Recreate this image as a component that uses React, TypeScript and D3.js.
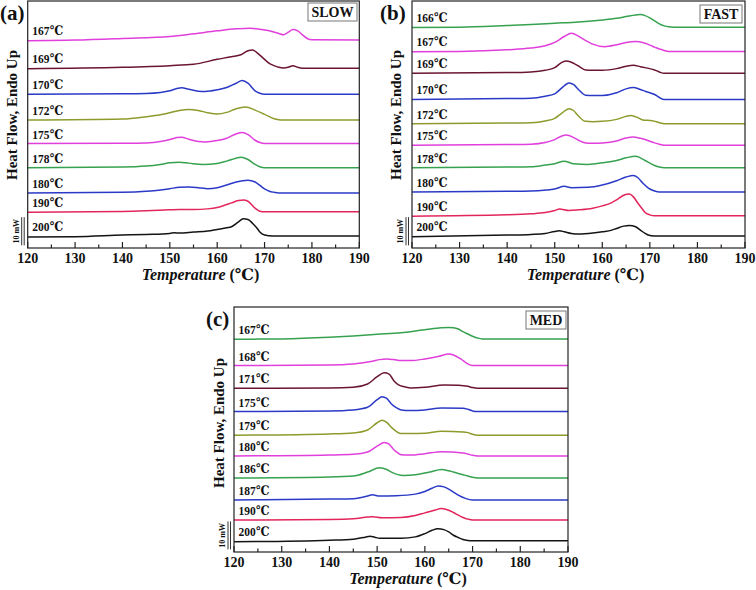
import React from "react";
import * as d3 from "d3";

type Pt = [number, number];

// ---------- common ----------
const X_TICKS = [120, 130, 140, 150, 160, 170, 180, 190];
const X_MINOR = [125, 135, 145, 155, 165, 175, 185];
const X_DOMAIN: [number, number] = [120, 190];
const Y_DOMAIN: [number, number] = [0, 74.5];
const SCALE_BAR = [0.8, 9.3]; // 10 mW marker (in plot units)

const C_BLACK = "#141414";
const C_RED = "#e2265c";
const C_BLUE = "#2b3ac6";
const C_GREEN = "#36a24f";
const C_MAGENTA = "#e03fdc";
const C_OLIVE = "#8e9b2c";
const C_DARKRED = "#6a1630";

// ---------- (a) SLOW ----------
const SLOW_LABELS = ["167℃", "169℃", "170℃", "172℃", "175℃", "178℃", "180℃", "190℃", "200℃"];
const SLOW_OFFSETS = [62.7, 54.2, 46.4, 38.6, 31.5, 24.2, 16.6, 10.9, 3.6];
const SLOW_COLORS = [C_MAGENTA, C_DARKRED, C_BLUE, C_OLIVE, C_MAGENTA, C_GREEN, C_BLUE, C_RED, C_BLACK];
const SLOW_167: Pt[] = [[120, -0.2], [130, 0], [140, 0.5], [150, 1.1], [155, 1.9], [160, 2.8], [164, 3.4], [167, 3.6], [169, 3.3], [171, 2.8], [173, 2.0], [174, 1.6], [175, 2.4], [176, 3.2], [177, 2.8], [178, 1.6], [179, 0.5], [180, 0.1], [190, 0]];
const SLOW_169: Pt[] = [[120, -0.1], [140, 0.3], [150, 0.8], [155, 1.2], [160, 2.7], [163, 3.5], [165, 4.1], [166.5, 5.3], [167.5, 5.5], [168.5, 4.6], [170, 2.7], [171, 1.5], [172, 0.8], [173, 0.3], [174, 0.1], [175, 0.3], [176, 0.8], [177, 0.3], [178, 0], [190, 0]];
const SLOW_170: Pt[] = [[120, 0], [140, 0.1], [145, 0.2], [148, 0.5], [150, 1.0], [151.5, 1.7], [152.5, 1.9], [154, 1.5], [156, 0.9], [157.5, 0.8], [160, 1.3], [162, 2.0], [164, 3.3], [165.3, 4.1], [166.5, 3.3], [168, 1.0], [169, 0.3], [170, 0], [190, 0]];
const SLOW_172: Pt[] = [[120, 0], [140, 0.3], [145, 1.0], [148, 1.6], [150, 2.2], [152, 2.9], [154, 3.2], [156, 2.9], [158, 2.2], [160, 1.8], [162, 2.3], [164, 3.4], [166, 3.9], [168, 3.0], [170, 1.7], [172, 0.4], [173, 0.1], [174, 0], [190, 0]];
const SLOW_175: Pt[] = [[120, 0], [140, 0.1], [145, 0.2], [148, 0.6], [150, 1.2], [151.5, 1.8], [152.5, 1.9], [154, 1.3], [156, 0.6], [157.5, 0.5], [160, 0.9], [162, 1.6], [164, 2.9], [165.3, 3.3], [166.5, 2.7], [168, 1.0], [169, 0.3], [170, 0], [190, 0]];
const SLOW_178: Pt[] = [[120, 0], [140, 0.2], [145, 0.5], [148, 1.0], [150, 1.5], [152, 1.7], [154, 1.4], [157, 1.0], [160, 1.3], [162, 2.0], [164, 2.9], [165, 3.2], [166.5, 2.5], [168, 1.0], [169, 0.3], [170, 0], [190, 0]];
const SLOW_180: Pt[] = [[120, 0], [140, 0.2], [145, 0.5], [150, 1.3], [152, 1.7], [154, 1.8], [156, 1.6], [158, 1.3], [160, 1.6], [162, 2.4], [164, 3.3], [166.5, 3.8], [168, 3.3], [169, 2.3], [170, 1.2], [171, 0.5], [172, 0.2], [173, 0], [190, 0]];
const SLOW_190: Pt[] = [[120, -0.1], [140, 0.1], [145, 0.3], [150, 0.6], [152, 0.7], [155, 0.7], [158, 0.9], [160, 1.3], [162, 2.2], [163, 2.7], [164.5, 3.4], [165.5, 3.6], [166.5, 3.2], [168, 1.1], [169, 0.2], [170, 0], [190, 0]];
const SLOW_200: Pt[] = [[120, -0.3], [130, -0.2], [140, 0.3], [145, 0.5], [150, 0.8], [151, 1.0], [152, 0.9], [155, 1.2], [158, 1.5], [160, 2.0], [162, 2.5], [163, 2.8], [164.5, 4.3], [165.5, 5.2], [166.5, 5.0], [167.5, 3.8], [168.5, 2.2], [169, 1.2], [170, 0.3], [171, 0.1], [172, 0], [190, 0]];
const SLOW_CURVES = [SLOW_167, SLOW_169, SLOW_170, SLOW_172, SLOW_175, SLOW_178, SLOW_180, SLOW_190, SLOW_200];

// ---------- (b) FAST ----------
const FAST_LABELS = ["166℃", "167℃", "169℃", "170℃", "172℃", "175℃", "178℃", "180℃", "190℃", "200℃"];
const FAST_OFFSETS = [66.6, 59.3, 52.7, 44.8, 37.5, 31.0, 24.2, 16.9, 9.7, 3.6];
const FAST_COLORS = [C_GREEN, C_MAGENTA, C_DARKRED, C_BLUE, C_OLIVE, C_MAGENTA, C_GREEN, C_BLUE, C_RED, C_BLACK];
const FAST_166: Pt[] = [[120, -0.1], [130, 0], [140, 0.5], [145, 0.8], [150, 1.2], [155, 1.6], [160, 2.2], [163, 2.7], [165, 3.2], [167, 3.7], [168, 3.8], [169, 3.5], [170, 2.8], [171, 1.9], [172, 1.0], [173, 0.4], [174, 0.1], [175, 0], [190, 0]];
const FAST_167: Pt[] = [[120, -0.1], [130, 0], [140, 0.5], [145, 1.0], [148, 1.7], [150, 2.7], [152, 4.5], [153.5, 5.5], [155, 4.6], [156, 3.7], [158, 2.2], [160.5, 1.4], [163, 2.0], [165, 2.7], [167, 3.0], [168.5, 2.7], [170, 1.9], [171, 1.3], [172, 0.7], [173, 0.3], [174, 0], [190, 0]];
const FAST_169: Pt[] = [[120, 0], [140, 0.2], [145, 0.4], [148, 0.9], [150, 1.7], [151.5, 3.3], [152.5, 3.7], [154, 3.0], [155, 2.2], [156.5, 1.0], [158, 0.9], [160, 0.9], [163, 1.4], [165, 2.1], [166.5, 2.4], [168, 2.0], [169, 1.7], [171, 1.0], [172, 0.4], [173, 0], [190, 0]];
const FAST_170: Pt[] = [[120, 0], [140, 0.3], [145, 0.4], [148, 1.0], [150, 1.7], [151.5, 3.5], [153, 5.0], [154, 4.5], [155, 3.0], [156.5, 1.3], [158, 1.2], [160, 1.2], [163, 2.0], [165, 3.2], [166.5, 3.6], [168, 3.0], [169, 2.5], [171, 1.5], [172, 0.6], [173, 0], [190, 0]];
const FAST_172: Pt[] = [[120, 0], [140, 0.2], [145, 0.3], [148, 0.8], [150, 1.6], [151.5, 3.2], [153, 4.5], [154, 3.9], [155, 2.3], [156.5, 0.7], [158, 0.6], [160, 0.7], [163, 1.3], [165, 2.2], [166, 2.5], [167.5, 1.8], [168.5, 1.1], [170.5, 0.9], [172, 0.3], [173, 0], [190, 0]];
const FAST_175: Pt[] = [[120, 0], [140, 0.2], [145, 0.3], [148, 0.8], [150, 1.7], [151.5, 2.8], [152.5, 3.1], [154, 2.3], [155, 1.5], [156.5, 0.7], [158, 0.6], [160, 0.7], [163, 1.3], [165, 2.2], [166.5, 2.5], [168, 2.1], [169, 1.7], [171, 0.7], [172, 0.3], [173, 0], [190, 0]];
const FAST_178: Pt[] = [[120, 0], [140, 0.2], [145, 0.3], [148, 0.8], [150, 1.2], [152, 2.0], [154, 1.2], [157, 1.0], [160, 1.5], [163, 2.2], [165, 3.0], [167, 3.5], [168, 3.0], [169, 2.2], [170, 1.4], [171, 0.7], [172, 0.2], [173, 0], [190, 0]];
const FAST_180: Pt[] = [[120, 0], [140, 0.2], [145, 0.3], [150, 0.9], [152, 1.7], [153.5, 1.3], [157, 1.4], [160, 2.1], [163, 3.4], [165, 4.5], [166.5, 5.0], [167.5, 4.3], [168.5, 2.7], [169.5, 1.4], [170, 0.9], [171, 0.3], [172, 0], [190, 0]];
const FAST_190: Pt[] = [[120, -0.1], [140, 0.3], [145, 0.6], [148, 1.0], [150, 1.6], [151, 2.1], [153, 1.6], [155, 1.8], [158, 2.3], [160, 3.0], [162, 4.0], [163, 4.8], [164.5, 6.2], [165.7, 6.6], [166.5, 5.8], [167.5, 3.8], [168.5, 1.9], [169, 1.0], [170, 0.3], [171, 0], [190, 0]];
const FAST_200: Pt[] = [[120, -0.2], [140, 0.3], [145, 0.5], [148, 0.8], [150, 1.4], [151, 1.6], [152, 1.3], [153.5, 0.8], [155, 0.6], [158, 0.9], [160, 1.3], [162, 1.8], [163, 2.3], [164.5, 3.0], [165.7, 3.2], [167, 2.8], [168, 1.8], [169, 0.8], [169.5, 0.4], [171, 0], [190, 0]];
const FAST_CURVES = [FAST_166, FAST_167, FAST_169, FAST_170, FAST_172, FAST_175, FAST_178, FAST_180, FAST_190, FAST_200];

// ---------- (c) MED ----------
const MED_LABELS = ["167℃", "168℃", "171℃", "175℃", "179℃", "180℃", "186℃", "187℃", "190℃", "200℃"];
const MED_OFFSETS = [64.8, 56.7, 49.8, 42.7, 35.5, 29.2, 22.5, 15.8, 9.7, 3.4];
const MED_COLORS = [C_GREEN, C_MAGENTA, C_DARKRED, C_BLUE, C_OLIVE, C_MAGENTA, C_GREEN, C_BLUE, C_RED, C_BLACK];
const MED_167: Pt[] = [[120, -0.1], [130, 0], [140, 0.5], [145, 0.9], [150, 1.4], [155, 1.9], [157, 2.2], [160, 2.8], [163, 3.3], [165, 3.5], [166, 3.4], [167, 3.0], [168, 2.2], [169, 1.5], [170, 0.8], [171, 0.3], [172, 0], [190, 0]];
const MED_168: Pt[] = [[120, 0], [140, 0.2], [145, 0.5], [149, 1.3], [150.5, 1.8], [152, 2.0], [153.5, 1.8], [155, 1.5], [157, 1.5], [160, 2.0], [163, 2.8], [165, 3.5], [166, 3.2], [167.5, 2.0], [168.5, 1.0], [169, 0.5], [170, 0], [190, 0]];
const MED_171: Pt[] = [[120, 0], [140, 0.1], [145, 0.3], [148, 1.3], [150, 3.5], [151.5, 4.7], [152.5, 4.3], [153.5, 2.3], [154.5, 1.0], [155.5, 0.5], [157, 0.1], [160, 0.3], [164, 1.0], [167, 0.9], [169, 0.6], [170, 0.2], [171, 0], [190, 0]];
const MED_175: Pt[] = [[120, 0], [140, 0.2], [145, 0.5], [148, 1.3], [150, 3.6], [151, 4.5], [152, 4.0], [153, 2.3], [154, 1.2], [155, 0.5], [157, 0.3], [160, 0.5], [163.5, 1.1], [168, 1.0], [169, 0.7], [170, 0.2], [171, 0], [190, 0]];
const MED_179: Pt[] = [[120, 0], [140, 0.4], [145, 0.7], [148, 1.6], [150, 3.8], [151, 4.6], [152, 3.9], [153, 2.4], [154, 1.2], [155, 0.5], [157, 0.5], [160, 0.6], [163.5, 1.2], [168, 1.0], [169, 0.8], [170, 0.3], [171, 0], [190, 0]];
const MED_180: Pt[] = [[120, 0], [140, 0.3], [145, 0.5], [148, 1.2], [150, 3.0], [151.5, 4.1], [152.5, 3.6], [153.5, 1.9], [154.5, 0.8], [155, 0.4], [157, 0.3], [160, 0.7], [163.5, 1.3], [168, 0.9], [169, 0.6], [170, 0.2], [171, 0], [190, 0]];
const MED_186: Pt[] = [[120, 0], [140, 0.3], [145, 0.6], [148, 1.8], [150.5, 3.1], [152, 2.6], [153, 1.8], [155.5, 0.8], [158, 1.0], [160, 1.5], [161, 1.8], [163.5, 2.6], [165, 2.2], [166, 1.8], [168, 1.0], [169, 0.6], [170, 0.2], [171, 0], [190, 0]];
const MED_187: Pt[] = [[120, 0], [140, 0.3], [145, 0.4], [148, 1.2], [149, 1.6], [150.5, 1.2], [154, 1.3], [158, 1.8], [160, 2.6], [161.5, 3.6], [162.8, 4.3], [164, 4.0], [165, 3.3], [166, 2.4], [167, 1.5], [168.5, 0.5], [170, 0], [190, 0]];
const MED_190: Pt[] = [[120, 0], [140, 0.2], [145, 0.4], [149, 1.0], [151, 0.7], [155, 0.8], [158, 1.4], [160, 2.2], [162, 3.0], [163.5, 3.5], [165, 3.0], [166, 2.3], [167, 1.5], [168, 0.8], [169, 0.3], [170, 0], [190, 0]];
const MED_200: Pt[] = [[120, -0.3], [140, 0.2], [145, 0.5], [147.5, 1.1], [148.5, 1.4], [149.5, 1.1], [150.5, 0.8], [155, 0.8], [158, 1.2], [160, 2.2], [161.5, 3.2], [162.7, 3.7], [164, 3.4], [165, 2.7], [166, 1.7], [167, 1.0], [168, 0.4], [169, 0.1], [170, 0], [190, 0]];
const MED_CURVES = [MED_167, MED_168, MED_171, MED_175, MED_179, MED_180, MED_186, MED_187, MED_190, MED_200];

const SERIF = "'Liberation Serif', 'Times New Roman', 'DejaVu Serif', serif";

type PanelProps = {
  left: number; right: number; top: number; bottom: number;
  letter: string; tag: string; tagBox: [number, number, number, number];
  letterPos: [number, number];
  yLabelPos: [number, number];
  labels: string[]; offsets: number[]; colors: string[]; curves: Pt[][];
};

function Panel(p: PanelProps) {
  const x = d3.scaleLinear().domain(X_DOMAIN).range([p.left, p.right]);
  const y = d3.scaleLinear().domain(Y_DOMAIN).range([p.bottom, p.top]);
  const cx = (p.left + p.right) / 2;
  return (
    <g>
      {p.curves.map((c, i) => {
        const line = d3
          .line<Pt>()
          .x((d) => x(d[0]))
          .y((d) => y(d[1] + p.offsets[i]))
          .curve(d3.curveMonotoneX);
        return (
          <path key={"c" + i} d={line(c) || ""} fill="none" stroke={p.colors[i]} strokeWidth={1.5} />
        );
      })}
      {p.labels.map((l, i) => (
        <text
          key={"l" + i}
          x={p.left + 4.5}
          y={y(p.offsets[i]) - 5}
          fontFamily={SERIF}
          fontWeight="bold"
          fontSize={13}
          fill="#111"
          textLength={31}
          lengthAdjust="spacingAndGlyphs"
        >
          {l}
        </text>
      ))}
      {/* frame */}
      <rect x={p.left} y={p.top} width={p.right - p.left} height={p.bottom - p.top} fill="none" stroke="#222" strokeWidth={1.2} />
      {/* ticks */}
      {X_TICKS.map((t) => (
        <g key={"t" + t}>
          <line x1={x(t)} x2={x(t)} y1={p.bottom} y2={p.bottom - 6} stroke="#222" strokeWidth={1.2} />
          <text x={x(t)} y={p.bottom + 15} textAnchor="middle" fontFamily={SERIF} fontWeight="bold" fontSize={14} fill="#111">
            {t}
          </text>
        </g>
      ))}
      {X_MINOR.map((t) => (
        <line key={"m" + t} x1={x(t)} x2={x(t)} y1={p.bottom} y2={p.bottom - 3.5} stroke="#222" strokeWidth={1.2} />
      ))}
      {/* x title */}
      <text
        x={cx + 7}
        y={p.bottom + 32}
        textAnchor="middle"
        fontFamily={SERIF}
        fontWeight="bold"
        fontSize={16}
        fill="#111"
      >
        <tspan fontStyle="italic">Temperature</tspan>
        <tspan> (℃)</tspan>
      </text>
      {/* y title */}
      <text
        transform={`translate(${p.yLabelPos[0]},${p.yLabelPos[1]}) rotate(-90)`}
        textAnchor="middle"
        fontFamily={SERIF}
        fontWeight="bold"
        fontSize={15}
        fill="#111"
      >
        Heat Flow, Endo Up
      </text>
      {/* scale bar */}
      <line x1={p.left - 3.5} x2={p.left - 3.5} y1={y(SCALE_BAR[0])} y2={y(SCALE_BAR[1])} stroke="#333" strokeWidth={1} />
      <line x1={p.left - 6} x2={p.left - 6} y1={y(SCALE_BAR[0])} y2={y(SCALE_BAR[1])} stroke="#333" strokeWidth={1} />
      <text
        transform={`translate(${p.left - 9},${(y(SCALE_BAR[0]) + y(SCALE_BAR[1])) / 2}) rotate(-90)`}
        textAnchor="middle"
        fontFamily={SERIF}
        fontWeight="bold"
        fontSize={8}
        fill="#111"
      >
        10 mW
      </text>
      {/* panel letter */}
      <text x={p.letterPos[0]} y={p.letterPos[1]} fontFamily={SERIF} fontWeight="bold" fontSize={21} fill="#111">
        {p.letter}
      </text>
      {/* tag box */}
      <rect x={p.tagBox[0]} y={p.tagBox[1]} width={p.tagBox[2]} height={p.tagBox[3]} fill="#fff" stroke="#777" strokeWidth={1} />
      <text
        x={p.tagBox[0] + p.tagBox[2] / 2}
        y={p.tagBox[1] + p.tagBox[3] / 2 + 5}
        textAnchor="middle"
        fontFamily={SERIF}
        fontWeight="bold"
        fontSize={14}
        fill="#111"
      >
        {p.tag}
      </text>
    </g>
  );
}

export default function App() {
  return (
    <div style={{ position: "absolute", left: 0, top: 0 }}>
      <svg width={756} height={590} style={{ display: "block", background: "#fff" }}>
        <Panel
          left={27.7} right={359.3} top={1} bottom={248}
          letter="(a)" tag="SLOW" tagBox={[308, 3, 49, 18]} letterPos={[0, 20]} yLabelPos={[17, 115]}
          labels={SLOW_LABELS} offsets={SLOW_OFFSETS} colors={SLOW_COLORS} curves={SLOW_CURVES}
        />
        <Panel
          left={412} right={745} top={1} bottom={248}
          letter="(b)" tag="FAST" tagBox={[700, 5, 42, 18]} letterPos={[380, 20]} yLabelPos={[401, 115]}
          labels={FAST_LABELS} offsets={FAST_OFFSETS} colors={FAST_COLORS} curves={FAST_CURVES}
        />
        <Panel
          left={234} right={568} top={307} bottom={552}
          letter="(c)" tag="MED" tagBox={[526, 311, 40, 18]} letterPos={[206, 326]} yLabelPos={[224, 423]}
          labels={MED_LABELS} offsets={MED_OFFSETS} colors={MED_COLORS} curves={MED_CURVES}
        />
      </svg>
    </div>
  );
}
